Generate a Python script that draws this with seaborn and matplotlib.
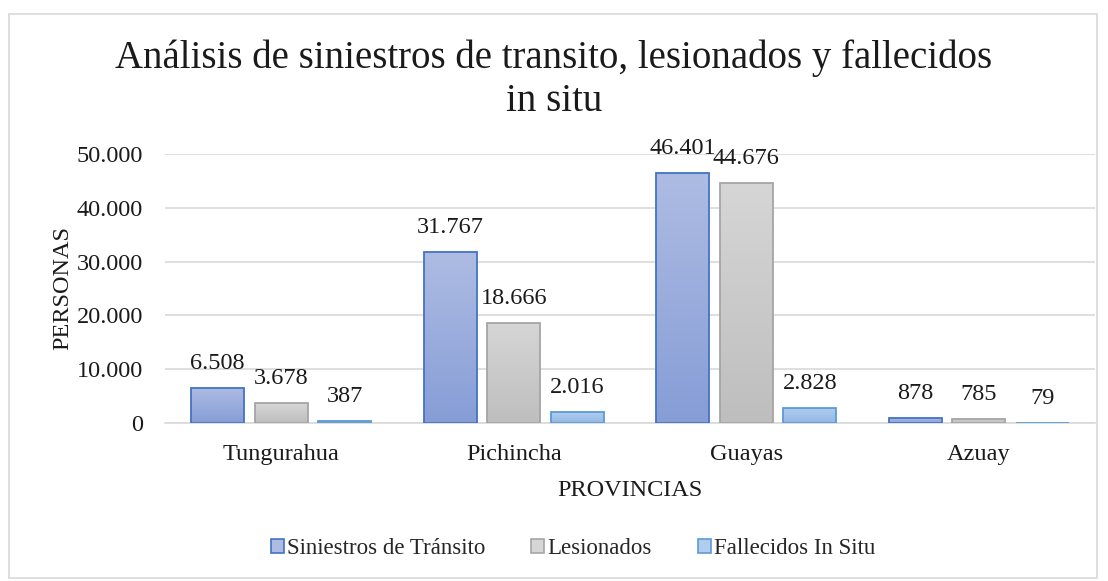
import matplotlib
matplotlib.use("Agg")
import matplotlib.pyplot as plt
import seaborn as sns
import numpy as np
import pandas as pd
from matplotlib.patches import Rectangle
from matplotlib.colors import LinearSegmentedColormap

provincias = ["Tungurahua", "Pichincha", "Guayas", "Azuay"]
series = ["Siniestros de Tránsito", "Lesionados", "Fallecidos In Situ"]
siniestros = [6508, 31767, 46401, 878]
lesionados = [3678, 18666, 44676, 785]
fallecidos = [387, 2016, 2828, 79]
yticks = [0, 10000, 20000, 30000, 40000, 50000]

face_top = {"Siniestros de Tránsito": "#AEBCE3", "Lesionados": "#D6D6D6", "Fallecidos In Situ": "#B0CDEE"}
face_bot = {"Siniestros de Tránsito": "#869DD6", "Lesionados": "#BEBEBE", "Fallecidos In Situ": "#93B8E6"}
edges = {"Siniestros de Tránsito": "#4472C4", "Lesionados": "#A5A5A5", "Fallecidos In Situ": "#5B9BD5"}

rows = []
for p, a, b, c in zip(provincias, siniestros, lesionados, fallecidos):
    rows.append((p, series[0], a))
    rows.append((p, series[1], b))
    rows.append((p, series[2], c))
df = pd.DataFrame(rows, columns=["Provincia", "Serie", "Personas"])

sns.set_theme(style="white")
plt.rcParams['font.family'] = ['Liberation Serif', 'DejaVu Serif']

FS = 17.5
TXT = "#1a1a1a"

fig = plt.figure(figsize=(11.08, 5.81), dpi=100)
ax = fig.add_axes([165 / 1108, 1 - 423 / 581, 930 / 1108, (423 - 154) / 581])

palette = {s: face_bot[s] for s in series}
sns.barplot(data=df, x="Provincia", y="Personas", hue="Serie", order=provincias,
            hue_order=series, palette=palette, width=0.82, gap=0.17,
            ax=ax, legend=False, saturation=1)

ax.set_ylim(0, 50000)
ax.set_yticks(yticks)
ax.set_yticklabels(["{:,}".format(v).replace(",", ".") for v in yticks], fontsize=FS, color=TXT)
ax.tick_params(axis="x", labelsize=FS, colors=TXT, pad=15, length=0)
ax.tick_params(axis="y", pad=16, length=0)
ax.yaxis.grid(True, color="#D9D9D9", linewidth=1.2)
ax.set_axisbelow(True)
for s in ["top", "right", "left"]:
    ax.spines[s].set_visible(False)
ax.spines["bottom"].set_color("#D9D9D9")
ax.spines["bottom"].set_linewidth(1.2)

ax.set_xlabel("PROVINCIAS", fontsize=FS, color=TXT, labelpad=11)
ax.set_ylabel("PERSONAS", fontsize=FS, color=TXT, labelpad=2)

# gradient fills and labels
for container, s in zip(ax.containers, series):
    cmap = LinearSegmentedColormap.from_list(s, [face_bot[s], face_top[s]])
    for bar in container:
        x0, y0 = bar.get_x(), bar.get_y()
        w, h = bar.get_width(), bar.get_height()
        grad = np.linspace(0, 1, 256).reshape(-1, 1)
        im = ax.imshow(grad, extent=[x0, x0 + w, 0, max(h, 1)], origin="lower",
                       cmap=cmap, aspect="auto", zorder=2)
        clip = Rectangle((x0, y0), w, h, transform=ax.transData)
        im.set_clip_path(clip)
        bar.set_facecolor("none")
        bar.set_edgecolor(edges[s])
        bar.set_linewidth(1.3)
        bar.set_zorder(3)
    ax.bar_label(container, labels=["{:,}".format(int(v)).replace(",", ".") for v in container.datavalues],
                 padding=10, fontsize=FS, color=TXT)
ax.set_xlim(-0.5, 3.5)
ax.set_ylim(0, 50000)

fig.text(0.5, 1 - 80 / 581, "Análisis de siniestros de transito, lesionados y fallecidos\nin situ",
         ha="center", va="center", fontsize=28, color=TXT, linespacing=1.22)

handles = [Rectangle((0, 0), 1, 1, facecolor=face_top[s], edgecolor=edges[s], linewidth=1.2) for s in series]
fig.legend(handles, series, loc="center", bbox_to_anchor=(573 / 1108, 1 - 549 / 581), ncol=3,
           frameon=False, fontsize=16.5, handlelength=0.57, handleheight=0.57,
           handletextpad=0.13, columnspacing=2.0)

border = Rectangle((9 / 1108, 1 - 578 / 581), 1088 / 1108, (578 - 14) / 581,
                   transform=fig.transFigure, fill=False, edgecolor="#D9D9D9", linewidth=1.2)
fig.patches.append(border)

fig.savefig("out.png", dpi=100, facecolor="white")
